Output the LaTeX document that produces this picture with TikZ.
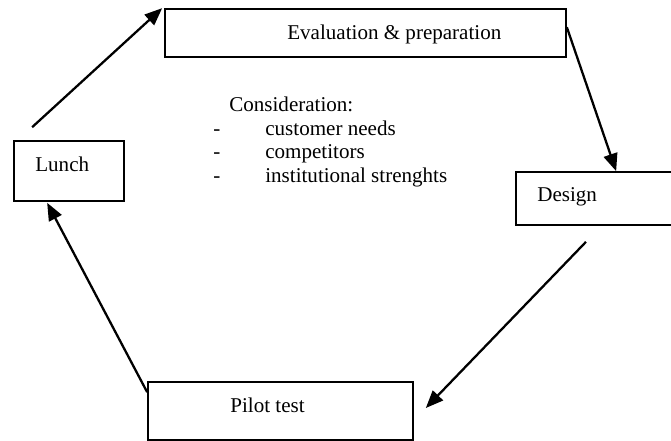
\documentclass[tikz,border=0pt]{standalone}
\usepackage{fontspec}
\setmainfont{Liberation Serif}
\usetikzlibrary{arrows.meta, calc, fit, positioning}

\begin{document}
\begin{tikzpicture}[x=0.57pt, y=-0.57pt, >={Triangle[length=10pt, width=8pt]},
    font=\fontsize{12}{14}\selectfont,
    stage/.style={draw, line width=0.95pt, inner sep=0pt},
    note/.style={anchor=base west, inner sep=0pt},
    flow/.style={->, line width=1.3pt}]
  \useasboundingbox (0,0) rectangle (671,441);

  % boxes
  \node[stage, fit={(165,9) (566,57)}]    (eval)   {};
  \node[stage, fit={(14,141) (124,201)}]  (lunch)  {};
  \node[stage, fit={(516,172) (676,225)}] (design) {};
  \node[stage, fit={(148,382) (413,440)}] (pilot)  {};

  % box texts
  \node[note] (evaltext)   at (287,40)  {Evaluation \& preparation};
  \node[note] (lunchtext)  at (35,172)  {Lunch};
  \node[note] (designtext) at (537,202) {Design};
  \node[note] (pilottext)  at (230,413) {Pilot test};

  % consideration list
  \node[note] (consid) at (229,112) {Consideration:};
  \foreach \entry [count=\i] in {customer needs, competitors, institutional strenghts} {
    \node[note] (dash\i) at (213,112+23.5*\i) {-};
    \node[note] (entry\i) at (265,112+23.5*\i) {\entry};
  }

  % cycle
  \draw[flow] ($(lunch.north west)+(19,-13)$) -- ($(eval.north west)+(-2,0)$);
  \draw[flow] ($(eval.north east)+(0,19)$)    -- ($(design.north west)+(101,0)$);
  \draw[flow] ($(design.south)+(-10,16)$)     -- ($(pilot.east)+(12,-3)$);
  \draw[flow] ($(pilot.north west)+(0,11)$)   -- ($(lunch.south west)+(34,1)$);
\end{tikzpicture}
\end{document}
